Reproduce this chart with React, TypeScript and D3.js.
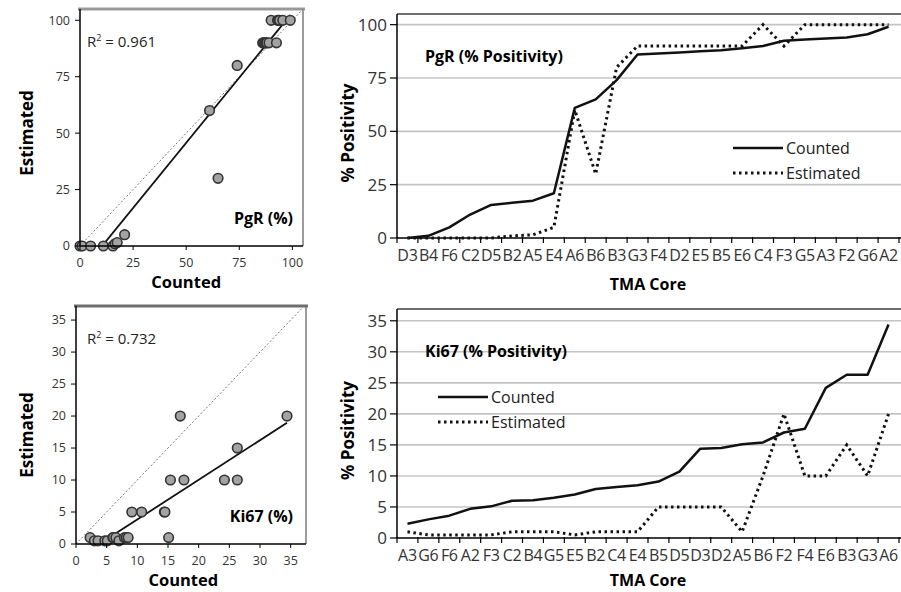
import { scaleBand, scaleLinear, line } from 'd3'

// PgR cores, sorted by counted positivity
const pgrCores = ['D3', 'B4', 'F6', 'C2', 'D5', 'B2', 'A5', 'E4', 'A6', 'B6', 'B3', 'G3', 'F4', 'D2', 'E5', 'B5', 'E6', 'C4', 'F3', 'G5', 'A3', 'F2', 'G6', 'A2']
const pgrCounted = [0, 1, 5, 11, 15.5, 16.5, 17.5, 21, 61, 65, 74, 86, 86.5, 87, 87.5, 88, 89, 90, 92.5, 93, 93.5, 94, 95.5, 99]
const pgrEstimated = [0, 0, 0, 0, 0, 1, 1.5, 5, 60, 30, 80, 90, 90, 90, 90, 90, 90, 100, 90, 100, 100, 100, 100, 100]
const pgrTicks = [0, 25, 50, 75, 100]

// Ki67 cores
const ki67Cores = ['A3', 'G6', 'F6', 'A2', 'F3', 'C2', 'B4', 'G5', 'E5', 'B2', 'C4', 'E4', 'B5', 'D5', 'D3', 'D2', 'A5', 'B6', 'F2', 'F4', 'E6', 'B3', 'G3', 'A6']
const ki67Counted = [2.3, 3, 3.6, 4.7, 5.1, 6, 6.1, 6.5, 7, 7.9, 8.2, 8.5, 9.1, 10.7, 14.4, 14.5, 15.1, 15.4, 17, 17.6, 24.2, 26.3, 26.3, 34.4]
const ki67Estimated = [1, 0.5, 0.5, 0.5, 0.5, 1, 1, 1, 0.5, 1, 1, 1, 5, 5, 5, 5, 1, 10, 20, 10, 10, 15, 10, 20]
const ki67Ticks = [0, 5, 10, 15, 20, 25, 30, 35]

const font = '"Open Sans", sans-serif'
const dotted = '2.5 3.5'

function fit(xs: number[], ys: number[]) {
  const n = xs.length
  const mx = xs.reduce((a, b) => a + b, 0) / n
  const my = ys.reduce((a, b) => a + b, 0) / n
  let sxy = 0
  let sxx = 0
  xs.forEach((x, i) => {
    sxy += (x - mx) * (ys[i] - my)
    sxx += (x - mx) * (x - mx)
  })
  const slope = sxy / sxx
  return { slope, intercept: my - slope * mx }
}

function Scatter({ id, counted, estimated, xMax, yMax, xRange, yRange, ticks, r2, label, yMid, topColor }) {
  const x = scaleLinear().domain([0, xMax]).range(xRange)
  const y = scaleLinear().domain([0, yMax]).range(yRange)
  const { slope, intercept } = fit(counted, estimated)
  const x0 = Math.min(...counted)
  const x1 = Math.max(...counted)
  const top = y(yMax)
  const bottom = y(0)
  const left = x(0)
  const right = x(xMax)
  const cx = (x(0) + x(ticks[ticks.length - 1])) / 2
  return (
    <g fontFamily={font}>
      <defs>
        <clipPath id={id}>
          <rect x={left} y={top} width={right - left} height={bottom - top} />
        </clipPath>
      </defs>
      <line x1={right} x2={right} y1={top} y2={bottom} stroke="#7a7a7a" strokeWidth={1.5} />
      <line x1={left - 2} x2={right + 2} y1={top} y2={top} stroke={topColor} strokeWidth={3} />
      <g clipPath={`url(#${id})`}>
        <line
          x1={x(0)} y1={y(0)} x2={x(Math.max(xMax, yMax))} y2={y(Math.max(xMax, yMax))}
          stroke="#777" strokeWidth={1} strokeDasharray="2 2"
        />
        <line
          x1={x(x0)} y1={y(slope * x0 + intercept)} x2={x(x1)} y2={y(slope * x1 + intercept)}
          stroke="#111" strokeWidth={1.8}
        />
      </g>
      {counted.map((c, i) => (
        <circle key={i} cx={x(c)} cy={y(estimated[i])} r={4.8} fill="#a3a3a3" stroke="#333" strokeWidth={1.6} />
      ))}
      <line x1={left} x2={left} y1={top} y2={bottom} stroke="#000" strokeWidth={1.5} />
      <line x1={left} x2={right} y1={bottom} y2={bottom} stroke="#000" strokeWidth={1.5} />
      {ticks.map((t) => (
        <g key={t}>
          <line x1={x(t)} x2={x(t)} y1={bottom} y2={bottom + 4} stroke="#000" />
          <line x1={left - 5} x2={left} y1={y(t)} y2={y(t)} stroke="#000" />
          <text x={x(t)} y={bottom + 21} textAnchor="middle" fontSize={12.5} fill="#333">{t}</text>
          <text x={left - 10} y={y(t)} dy="0.35em" textAnchor="end" fontSize={12.5} fill="#333">{t}</text>
        </g>
      ))}
      <text x={cx} y={bottom + 42} textAnchor="middle" fontSize={16.5} fontWeight="bold">Counted</text>
      <text transform={`translate(33,${yMid}) rotate(-90)`} textAnchor="middle" fontSize={17} fontWeight="bold">Estimated</text>
      <text x={87} y={top + 38} fontSize={15} fill="#222">
        R<tspan fontSize={9} dy={-6}>2</tspan><tspan dy={6}> = {r2}</tspan>
      </text>
      <text x={293} y={bottom - 22} textAnchor="end" fontSize={16} fontWeight="bold">{label}</text>
    </g>
  )
}

function Lines({ cores, counted, estimated, yMax, yRange, ticks, title, legendX, legendY }) {
  const x = scaleBand().domain(cores).range([397, 899])
  const y = scaleLinear().domain([0, yMax]).range(yRange)
  const pos = (i: number) => x(cores[i]) + x.bandwidth() / 2
  const path = line<number>().x((_, i) => pos(i)).y((d) => y(d))
  const top = y(yMax)
  const bottom = y(0)
  const left = 397
  const cy = (top + bottom) / 2
  return (
    <g fontFamily={font}>
      {ticks.filter((t) => t > 0).map((t) => (
        <line key={t} x1={left} x2={901} y1={y(t)} y2={y(t)} stroke="#c4c4c4" strokeWidth={1.6} />
      ))}
      <line x1={left} x2={901} y1={top} y2={top} stroke="#6e6e6e" strokeWidth={2} />
      <line x1={left} x2={left} y1={top} y2={bottom} stroke="#000" strokeWidth={1.5} />
      <line x1={left} x2={901} y1={bottom} y2={bottom} stroke="#000" strokeWidth={1.5} />
      {ticks.map((t) => (
        <g key={t}>
          <line x1={left - 7} x2={left} y1={y(t)} y2={y(t)} stroke="#000" strokeWidth={1.2} />
          <text x={387} y={y(t)} dy="0.36em" textAnchor="end" fontSize={17} fill="#333">{t}</text>
        </g>
      ))}
      {cores.map((c, i) => (
        <g key={c}>
          <line x1={x(c)} x2={x(c)} y1={bottom - 1} y2={bottom + 5} stroke="#000" strokeWidth={1.2} />
          <text x={pos(i)} y={bottom + 23} textAnchor="middle" fontSize={16} fill="#333" letterSpacing={-0.3}>{c}</text>
        </g>
      ))}
      <line x1={x.range()[1]} x2={x.range()[1]} y1={bottom - 1} y2={bottom + 5} stroke="#000" strokeWidth={1.2} />
      <path d={path(estimated)} fill="none" stroke="#111" strokeWidth={3} strokeDasharray={dotted} />
      <path d={path(counted)} fill="none" stroke="#111" strokeWidth={2.5} strokeLinejoin="round" />
      <text x={425} y={top + 48} fontSize={16} fontWeight="bold">{title}</text>
      <line x1={legendX} x2={legendX + 50} y1={legendY} y2={legendY} stroke="#111" strokeWidth={2.5} />
      <line x1={legendX} x2={legendX + 50} y1={legendY + 25} y2={legendY + 25} stroke="#111" strokeWidth={3} strokeDasharray={dotted} />
      <text x={legendX + 53} y={legendY} dy="0.35em" fontSize={16} fill="#222">Counted</text>
      <text x={legendX + 53} y={legendY + 25} dy="0.35em" fontSize={16} fill="#222">Estimated</text>
      <text x={648} y={Math.min(bottom + 52, 586)} textAnchor="middle" fontSize={16} fontWeight="bold">TMA Core</text>
      <text transform={`translate(354,${cy + 7}) rotate(-90)`} textAnchor="middle" fontSize={17} fontWeight="bold">% Positivity</text>
    </g>
  )
}

export default function App() {
  return (
    <svg width={901} height={592} style={{ position: 'absolute', left: 0, top: 0, background: '#fff' }}>
      <rect width={901} height={592} fill="#fff" />
      <Scatter
        id="clipPgr" counted={pgrCounted} estimated={pgrEstimated}
        xMax={105} yMax={105} xRange={[80, 303]} yRange={[246, 9]}
        ticks={pgrTicks} r2="0.961" label="PgR (%)" yMid={133} topColor="#999"
      />
      <Scatter
        id="clipKi" counted={ki67Counted} estimated={ki67Estimated}
        xMax={37.5} yMax={37.2} xRange={[76, 306]} yRange={[544, 306]}
        ticks={ki67Ticks} r2="0.732" label="Ki67 (%)" yMid={435} topColor="#6e6e6e"
      />
      <Lines
        cores={pgrCores} counted={pgrCounted} estimated={pgrEstimated}
        yMax={105} yRange={[238, 14]} ticks={pgrTicks}
        title="PgR (% Positivity)" legendX={733} legendY={148}
      />
      <Lines
        cores={ki67Cores} counted={ki67Counted} estimated={ki67Estimated}
        yMax={36.9} yRange={[538, 309]} ticks={ki67Ticks}
        title="Ki67 (% Positivity)" legendX={438} legendY={397}
      />
    </svg>
  )
}
